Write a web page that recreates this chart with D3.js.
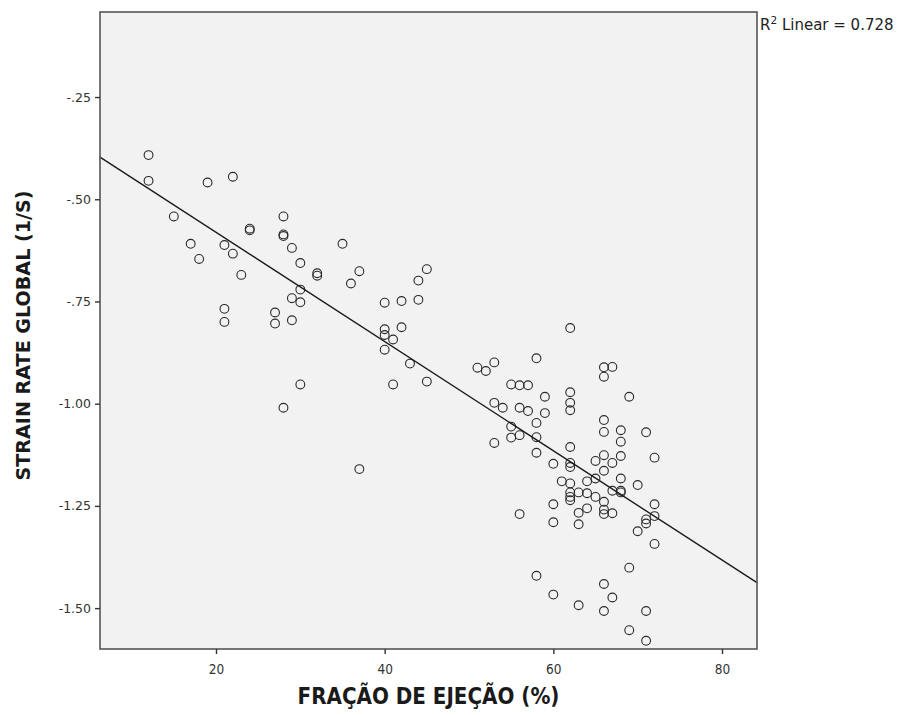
<!DOCTYPE html>
<html>
<head>
<meta charset="utf-8">
<script src="https://cdn.jsdelivr.net/npm/d3@7"></script>
<style>
  html, body { margin: 0; padding: 0; background: #fff; }
  svg { display: block; }
</style>
</head>
<body>
<svg id="chart" width="900" height="715"></svg>
<script>
// Ejection fraction (%)
const ejectionFraction = [
  12, 12, 19, 22, 15, 24, 24, 28, 28, 28, 29, 17, 18, 21, 22, 23, 30, 32, 32, 35,
  30, 29, 30, 21, 21, 27, 27, 29, 30, 28, 37, 37, 36, 45, 44, 40, 42, 44, 40, 40,
  42, 41, 40, 43, 41, 45, 62, 58, 51, 52, 53, 55, 56, 57, 59, 62, 62, 62, 53, 54,
  56, 57, 59, 58, 55, 55, 56, 58, 53, 58, 62, 60, 62, 62, 61, 62, 64, 62, 62, 62,
  63, 64, 64, 63, 63, 60, 60, 56, 66, 66, 67, 69, 66, 66, 68, 68, 71, 66, 65, 67,
  68, 66, 72, 68, 65, 70, 67, 68, 68, 65, 66, 66, 66, 67, 72, 72, 71, 71, 70, 72,
  69, 58, 60, 63, 66, 67, 66, 71, 69, 71
];
// Global strain rate (1/s)
const strainRate = [
  -0.392, -0.455, -0.459, -0.445, -0.542, -0.572, -0.576, -0.542, -0.586, -0.590,
  -0.619, -0.609, -0.646, -0.612, -0.633, -0.685, -0.656, -0.681, -0.687, -0.609,
  -0.721, -0.742, -0.752, -0.768, -0.800, -0.777, -0.804, -0.796, -0.953, -1.010,
  -1.160, -0.676, -0.706, -0.671, -0.699, -0.753, -0.749, -0.746, -0.818, -0.832,
  -0.813, -0.843, -0.868, -0.902, -0.953, -0.946, -0.815, -0.889, -0.912, -0.920,
  -0.899, -0.953, -0.955, -0.955, -0.983, -0.972, -0.998, -1.016, -0.998, -1.010,
  -1.010, -1.018, -1.023, -1.047, -1.056, -1.083, -1.077, -1.082, -1.096, -1.120,
  -1.106, -1.147, -1.145, -1.155, -1.190, -1.195, -1.190, -1.217, -1.228, -1.236,
  -1.217, -1.219, -1.256, -1.267, -1.295, -1.246, -1.290, -1.270, -0.911, -0.934,
  -0.910, -0.983, -1.040, -1.069, -1.065, -1.093, -1.070, -1.126, -1.140, -1.145,
  -1.128, -1.164, -1.132, -1.183, -1.183, -1.199, -1.213, -1.213, -1.217, -1.228,
  -1.240, -1.259, -1.270, -1.268, -1.246, -1.275, -1.283, -1.293, -1.312, -1.343,
  -1.401, -1.421, -1.467, -1.493, -1.441, -1.474, -1.507, -1.507, -1.554, -1.580
];
const xTicks = [20, 40, 60, 80];
const yTicks = [-0.25, -0.50, -0.75, -1.00, -1.25, -1.50];
const yTickLabels = ["-.25", "-.50", "-.75", "-1.00", "-1.25", "-1.50"];
// Linear fit
const fitIntercept = -0.3136;
const fitSlope = -0.01336;
const rSquared = 0.728;
const xTitle = "FRAÇÃO DE EJEÇÃO (%)";
const yTitle = "STRAIN RATE GLOBAL (1/S)";

const svg = d3.select("#chart");
const pLeft = 100, pRight = 757, pTop = 12, pBottom = 649;

const x = d3.scaleLinear().domain([6.245, 84.15]).range([pLeft, pRight]);
const y = d3.scaleLinear().domain([-1.600, -0.042]).range([pBottom, pTop]);

function fitWidth(sel, target) {
  const fs = +sel.attr("font-size");
  const w = sel.node().getComputedTextLength();
  if (w > 0) sel.attr("font-size", (fs * target / w).toFixed(2));
}

// Plot background
svg.append("rect")
  .attr("x", pLeft).attr("y", pTop)
  .attr("width", pRight - pLeft).attr("height", pBottom - pTop)
  .attr("fill", "#f2f2f2");

// Points
const pts = ejectionFraction.map((v, i) => ({ x: v, y: strainRate[i] }));
svg.append("g").selectAll("circle").data(pts).join("circle")
  .attr("cx", d => x(d.x)).attr("cy", d => y(d.y))
  .attr("r", 4.4)
  .attr("fill", "none")
  .attr("stroke", "#2a2a2a")
  .attr("stroke-width", 1.1);

// Fit line
const xd = x.domain();
svg.append("line")
  .attr("x1", x(xd[0])).attr("y1", y(fitIntercept + fitSlope * xd[0]))
  .attr("x2", x(xd[1])).attr("y2", y(fitIntercept + fitSlope * xd[1]))
  .attr("stroke", "#1a1a1a").attr("stroke-width", 1.4);

// Frame
svg.append("rect")
  .attr("x", pLeft).attr("y", pTop)
  .attr("width", pRight - pLeft).attr("height", pBottom - pTop)
  .attr("fill", "none").attr("stroke", "#555").attr("stroke-width", 1.6);

// Axes
const xAxis = d3.axisBottom(x).tickValues(xTicks).tickSize(5).tickSizeOuter(0).tickPadding(10);
const gx = svg.append("g").attr("transform", `translate(0,${pBottom})`).call(xAxis);
gx.select(".domain").remove();
gx.selectAll("line").attr("stroke", "#333").attr("stroke-width", 1.4);
gx.selectAll("text").attr("font-family", "'DejaVu Sans Condensed', 'Liberation Sans Narrow', sans-serif")
  .attr("font-size", 13.5).attr("fill", "#333");

const yAxis = d3.axisLeft(y).tickValues(yTicks).tickSize(5).tickSizeOuter(0).tickPadding(4)
  .tickFormat((d, i) => yTickLabels[i]);
const gy = svg.append("g").attr("transform", `translate(${pLeft},0)`).call(yAxis);
gy.select(".domain").remove();
gy.selectAll("line").attr("stroke", "#333").attr("stroke-width", 1.4);
gy.selectAll("text").attr("font-family", "'DejaVu Sans', sans-serif")
  .attr("font-size", 12.5).attr("fill", "#333");

// Axis titles
const xt = svg.append("text")
  .attr("x", (pLeft + pRight) / 2 + 0).attr("y", 704)
  .attr("text-anchor", "middle")
  .attr("font-family", "'DejaVu Sans Condensed', 'Liberation Sans Narrow', sans-serif")
  .attr("font-weight", "bold").attr("font-size", 19).attr("fill", "#1a1a1a")
  .text(xTitle);
fitWidth(xt, 262);

const yt = svg.append("text")
  .attr("transform", `translate(30,${(pTop + pBottom) / 2 + 5}) rotate(-90)`)
  .attr("text-anchor", "middle")
  .attr("font-family", "'DejaVu Sans', sans-serif")
  .attr("font-weight", "600").attr("font-size", 17).attr("fill", "#1a1a1a")
  .text(yTitle);
fitWidth(yt, 290);

// R² label
const r2 = svg.append("text")
  .attr("x", 760).attr("y", 30)
  .attr("font-family", "'DejaVu Sans', sans-serif")
  .attr("font-size", 15).attr("fill", "#222");
r2.append("tspan").text("R");
r2.append("tspan").attr("dy", -6).attr("font-size", 10.5).text("2");
r2.append("tspan").attr("dy", 6).text(" Linear = " + rSquared.toFixed(3));
</script>
</body>
</html>
